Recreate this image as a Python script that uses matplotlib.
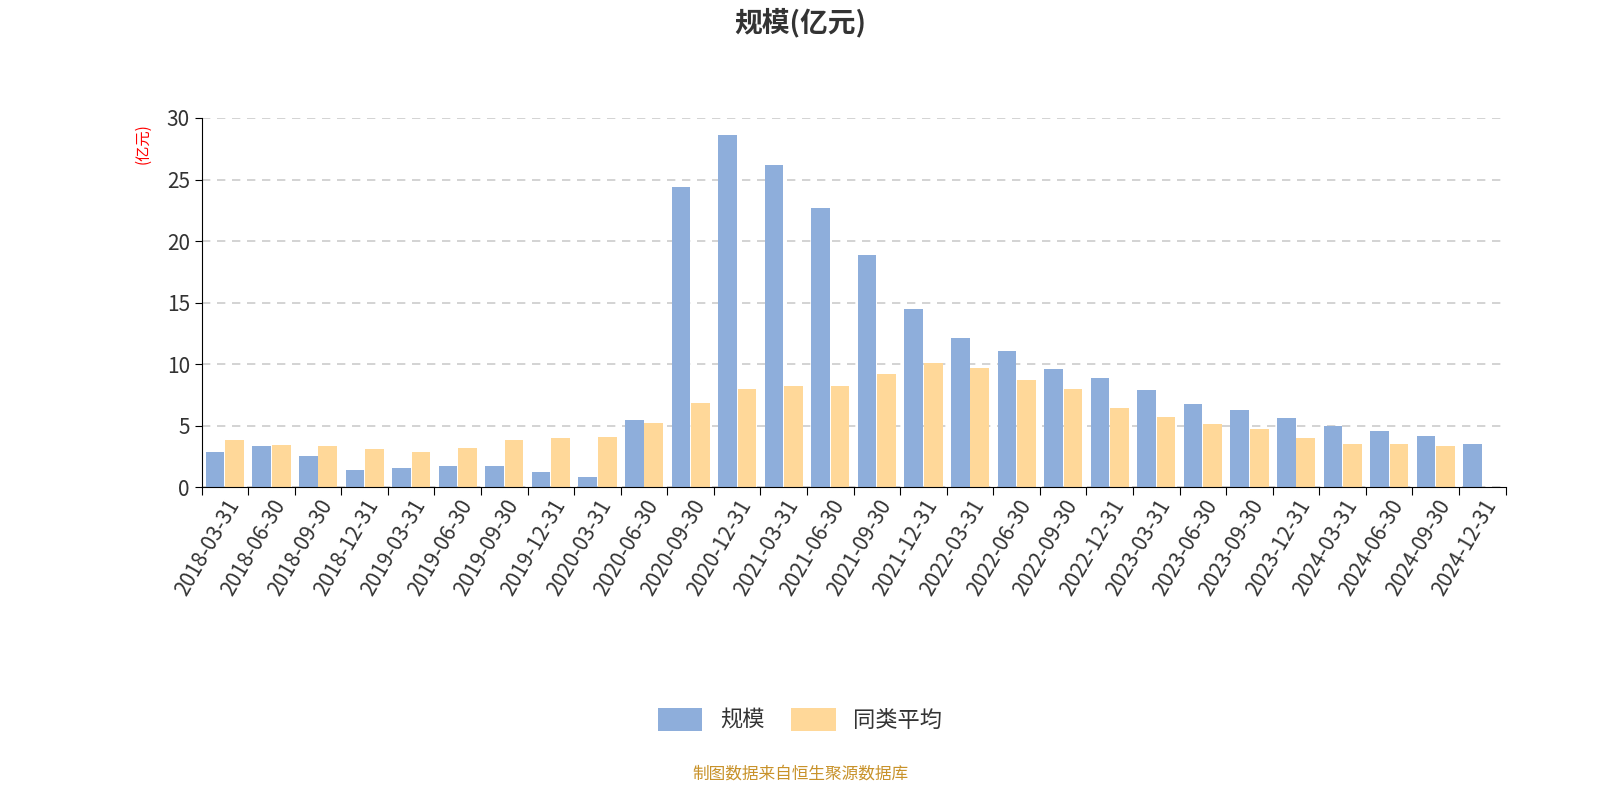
import matplotlib.pyplot as plt
from matplotlib import font_manager
import numpy as np

cjk = [f.name for f in font_manager.fontManager.ttflist if 'CJK' in f.name]
plt.rcParams['font.family'] = sorted(set(cjk)) + ['DejaVu Sans']

dates = ['2018-03-31', '2018-06-30', '2018-09-30', '2018-12-31',
         '2019-03-31', '2019-06-30', '2019-09-30', '2019-12-31',
         '2020-03-31', '2020-06-30', '2020-09-30', '2020-12-31',
         '2021-03-31', '2021-06-30', '2021-09-30', '2021-12-31',
         '2022-03-31', '2022-06-30', '2022-09-30', '2022-12-31',
         '2023-03-31', '2023-06-30', '2023-09-30', '2023-12-31',
         '2024-03-31', '2024-06-30', '2024-09-30', '2024-12-31']
scale = [2.85, 3.33, 2.5, 1.4, 1.6, 1.7, 1.7, 1.2, 0.8, 5.45, 24.4, 28.6,
         26.2, 22.7, 18.9, 14.5, 12.1, 11.1, 9.6, 8.9, 7.9, 6.8, 6.3, 5.6,
         5.0, 4.6, 4.15, 3.5]
peer_avg = [3.8, 3.45, 3.35, 3.1, 2.85, 3.15, 3.8, 4.0, 4.05, 5.2, 6.85, 8.0,
            8.2, 8.25, 9.2, 10.1, 9.7, 8.75, 7.95, 6.45, 5.7, 5.1, 4.7, 4.0,
            3.5, 3.5, 3.35, np.nan]

fig = plt.figure(figsize=(16, 8), dpi=100)
ax = fig.add_axes([0.126, 0.391, 0.815, 0.4615])
x = np.arange(len(dates))
w = 0.4
ax.bar(x - w / 2 - 0.01, scale, w, color='#8eaedb', label='规模')
ax.bar(x + w / 2 + 0.01, peer_avg, w, color='#ffd899', label='同类平均')

ax.set_xlim(-0.5, len(dates) - 0.5)
ax.set_ylim(0, 30)
ax.set_yticks(range(0, 31, 5))
ax.set_xticks(np.arange(-0.5, len(dates), 1), minor=False)
ax.set_xticklabels([])
ax.set_xticks(x, minor=True)
ax.set_xticklabels(dates, minor=True, rotation=60, ha='right', rotation_mode='anchor', fontsize=15, color='#333333')
ax.tick_params(axis='x', which='minor', length=0, pad=6)
ax.tick_params(axis='x', which='major', length=6)
ax.tick_params(axis='y', labelsize=15, labelcolor='#333333', length=5)
ax.grid(axis='y', linestyle=(0, (5, 4)), color='#cccccc', linewidth=1.2)
ax.set_axisbelow(True)
for s in ['top', 'right']:
    ax.spines[s].set_visible(False)
ax.text(-0.045, 0.93, '(亿元)', transform=ax.transAxes, rotation=90, color='red',
        fontsize=11, ha='center', va='center')

fig.text(0.5, 0.972, '规模(亿元)', ha='center', va='center', fontsize=20, fontweight='bold', color='#333333')
fig.legend(loc='center', bbox_to_anchor=(0.5, 0.1), ncol=2, frameon=False, fontsize=16,
           handlelength=2.0, handleheight=1.2, columnspacing=1.2, labelcolor='#333333')
fig.text(0.5, 0.033, '制图数据来自恒生聚源数据库', ha='center', va='center', fontsize=12, color='#c8922a')

fig.savefig('out.png')
